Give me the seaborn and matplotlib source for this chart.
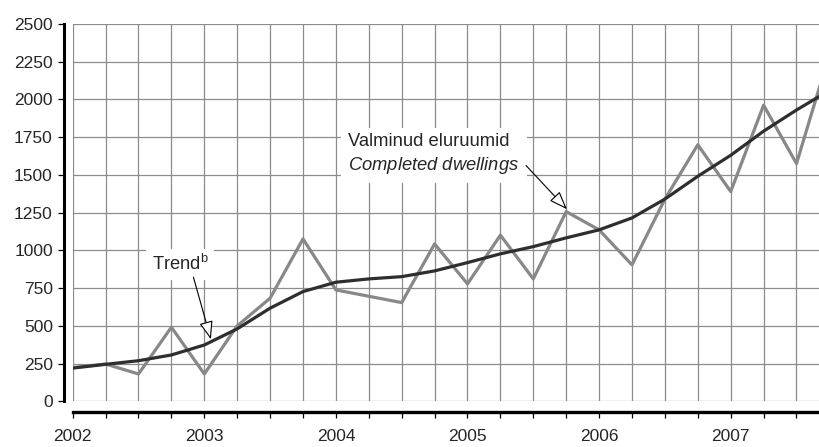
import matplotlib
matplotlib.use("Agg")
import matplotlib.pyplot as plt
import seaborn as sns
import pandas as pd

# Quarterly data, 2002 Q1 .. 2007 Q4
years = ["2002", "2003", "2004", "2005", "2006", "2007"]
quarters_per_year = 4
completed = [223, 247, 181, 491, 181, 500, 683, 1076, 738, 696, 654, 1043,
             778, 1101, 811, 1257, 1136, 904, 1340, 1700, 1390, 1962, 1575, 2300]
trend = [220, 245, 269, 307, 373, 480, 617, 727, 789, 811, 826, 864,
         919, 977, 1025, 1083, 1136, 1215, 1340, 1491, 1630, 1790, 1930, 2060]
y_ticks = [0, 250, 500, 750, 1000, 1250, 1500, 1750, 2000, 2250, 2500]
label_completed = "Valminud eluruumid\n$\\it{Completed\\ dwellings}$"
label_trend = "Trend$^\\mathregular{b}$"

sns.set_style("white")
plt.rcParams["font.family"] = ["Liberation Sans", "DejaVu Sans"]
plt.rcParams["mathtext.fontset"] = "custom"
plt.rcParams["mathtext.rm"] = "Liberation Sans"
plt.rcParams["mathtext.it"] = "Liberation Sans:italic"

n = len(completed)
df = pd.DataFrame({"q": list(range(n)), "completed": completed, "trend": trend})

fig = plt.figure(figsize=(8.2, 4.47), dpi=100)
ax = fig.add_axes([72.7 / 820, (447 - 401.3) / 447, (820 - 72.7) / 820, 377.3 / 447])

sns.lineplot(data=df, x="q", y="completed", ax=ax, color="#888888", lw=2.3, zorder=3)
sns.lineplot(data=df, x="q", y="trend", ax=ax, color="#2e2e2e", lw=2.3, zorder=4)

ax.set_yticks(y_ticks)
ax.set_yticklabels([str(v) for v in y_ticks])
ax.set_xticks(list(range(n)))
xlabels = []
for i in range(n):
    if i % quarters_per_year == 0:
        xlabels.append(years[i // quarters_per_year])
    else:
        xlabels.append("")
ax.set_xticklabels(xlabels)
ax.set_xlim(0, (820 - 72.7) / 32.9)
ax.set_ylim(0, 2500)
ax.set_xlabel("")
ax.set_ylabel("")

ax.grid(True, color="#8c8c8c", lw=0.9)
ax.set_axisbelow(True)

for s in ["top", "right"]:
    ax.spines[s].set_visible(False)
ax.spines["left"].set_position(("outward", 6.3))
ax.spines["bottom"].set_position(("outward", 7.5))
ax.spines["left"].set_linewidth(2.2)
ax.spines["bottom"].set_linewidth(2.4)
ax.spines["left"].set_color("black")
ax.spines["bottom"].set_color("black")

ax.tick_params(axis="y", direction="out", length=4, width=0.9, color="black",
               labelsize=12.5, pad=4, left=True)
ax.tick_params(axis="x", direction="out", length=4, width=0.9, color="black",
               labelsize=12.5, pad=8.5, bottom=True)

arrow_kw = dict(arrowstyle="-|>,head_length=0.4,head_width=0.15", fc="white",
                ec="black", lw=0.8, mutation_scale=28, shrinkA=0, shrinkB=0)

ax.text(3.26, 907, label_trend, fontsize=13.2, ha="center", va="center",
        bbox=dict(fc="white", ec="none", pad=4), zorder=5)
ax.annotate("", xy=(4.20, 411), xytext=(3.67, 822), arrowprops=arrow_kw, zorder=6)

ax.text(8.38, 1633, label_completed, fontsize=13.2, ha="left", va="center",
        linespacing=1.35, bbox=dict(fc="white", ec="none", pad=5), zorder=5)
ax.annotate("", xy=(15.02, 1273), xytext=(13.78, 1562), arrowprops=arrow_kw, zorder=6)

fig.savefig("out.png", dpi=100)
